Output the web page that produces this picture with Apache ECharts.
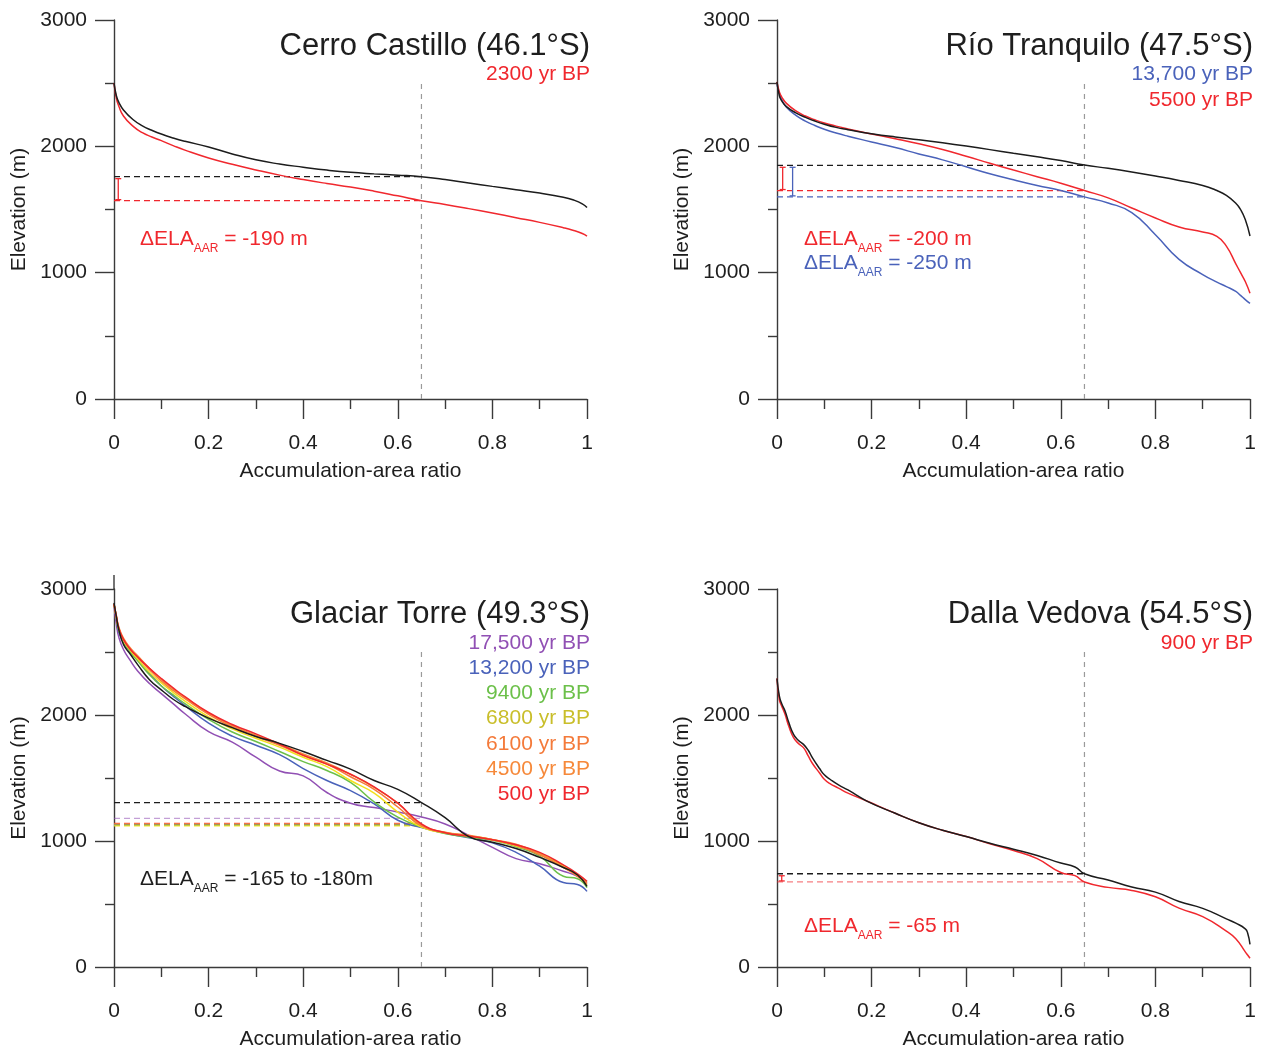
<!DOCTYPE html>
<html>
<head>
<meta charset="utf-8">
<title>Glacier hypsometry and AAR equilibrium-line altitudes</title>
<script src="https://cdn.jsdelivr.net/npm/echarts@6/dist/echarts.min.js"></script>
<style>
  html, body { margin: 0; padding: 0; background: #ffffff; }
  #chart { width: 1266px; height: 1051px; }
</style>
</head>
<body>
<div id="chart"></div>
<script>
// ---------- data ----------
// Accumulation-area ratio at which the ELA is read off each hypsometric curve
const ELA_AAR = 0.65;
const xTickLabels = ['0', '0.2', '0.4', '0.6', '0.8', '1'];
const yTickLabels = ['0', '1000', '2000', '3000'];

// Cerro Castillo (46.1°S)
const aarCC = [0, 0.005, 0.01, 0.02, 0.04, 0.06, 0.08, 0.1, 0.125, 0.15, 0.2, 0.25, 0.3, 0.35, 0.4, 0.45, 0.5, 0.55, 0.6, 0.65, 0.7, 0.75, 0.8, 0.85, 0.9, 0.95, 0.97, 0.99, 1.0];
const elevCCModern = [2500, 2400, 2350, 2288, 2212, 2162, 2127, 2097, 2066, 2040, 1995, 1940, 1893, 1860, 1835, 1812, 1794, 1782, 1772, 1760, 1738, 1710, 1683, 1657, 1630, 1597, 1577, 1545, 1515];
const elevCC2300 = [2500, 2380, 2320, 2240, 2160, 2108, 2074, 2045, 2006, 1970, 1908, 1858, 1813, 1772, 1737, 1706, 1678, 1645, 1608, 1570, 1540, 1507, 1472, 1435, 1398, 1356, 1336, 1310, 1290];
const elaCC = { modern: 1760, bp2300: 1570 };

// Río Tranquilo (47.5°S)
const aarRT = [0, 0.005, 0.01, 0.02, 0.04, 0.06, 0.08, 0.1, 0.125, 0.15, 0.2, 0.25, 0.3, 0.35, 0.4, 0.45, 0.5, 0.55, 0.6, 0.65, 0.7, 0.75, 0.8, 0.85, 0.9, 0.93, 0.95, 0.97, 0.98, 0.99, 1.0];
const elevRTModern = [2510, 2400, 2360, 2314, 2265, 2230, 2200, 2175, 2150, 2132, 2100, 2074, 2052, 2028, 2002, 1974, 1945, 1917, 1887, 1852, 1826, 1797, 1765, 1730, 1690, 1650, 1612, 1550, 1500, 1420, 1290];
const elevRT5500 = [2510, 2430, 2390, 2340, 2280, 2240, 2210, 2185, 2160, 2138, 2098, 2060, 2020, 1975, 1922, 1866, 1812, 1760, 1708, 1650, 1592, 1512, 1433, 1362, 1322, 1288, 1210, 1070, 1000, 930, 837];
const elevRT13700 = [2490, 2420, 2370, 2310, 2245, 2200, 2165, 2135, 2105, 2080, 2035, 1990, 1940, 1893, 1838, 1783, 1735, 1690, 1650, 1600, 1552, 1475, 1300, 1105, 985, 925, 890, 852, 820, 787, 757];
const elaRT = { modern: 1850, bp5500: 1650, bp13700: 1600 };

// Glaciar Torre (49.3°S)
const aarGT = [0, 0.005, 0.01, 0.02, 0.035, 0.05, 0.075, 0.1, 0.125, 0.15, 0.2, 0.25, 0.3, 0.35, 0.4, 0.45, 0.5, 0.55, 0.6, 0.65, 0.7, 0.75, 0.8, 0.85, 0.9, 0.95, 0.98, 1.0];
const elevGTModern = [2890, 2780, 2680, 2560, 2480, 2400, 2280, 2200, 2125, 2068, 1975, 1900, 1830, 1775, 1710, 1640, 1570, 1480, 1410, 1305, 1185, 1035, 990, 940, 870, 790, 730, 640];
const elevGT17500 = [2870, 2720, 2620, 2520, 2429, 2350, 2250, 2170, 2090, 2010, 1868, 1785, 1665, 1555, 1517, 1385, 1300, 1265, 1230, 1190, 1135, 1045, 950, 860, 820, 760, 720, 670];
const elevGT13200 = [2880, 2760, 2660, 2580, 2500, 2440, 2330, 2230, 2150, 2075, 1935, 1832, 1760, 1685, 1575, 1480, 1400, 1295, 1165, 1106, 1062, 1025, 985, 910, 800, 670, 655, 600];
const elevGT9400 = [2880, 2770, 2670, 2580, 2500, 2430, 2320, 2230, 2160, 2090, 1965, 1865, 1790, 1710, 1630, 1560, 1465, 1310, 1190, 1110, 1060, 1030, 1005, 955, 880, 720, 700, 630];
const elevGT6800 = [2880, 2770, 2680, 2590, 2510, 2445, 2340, 2255, 2180, 2110, 1985, 1890, 1815, 1745, 1665, 1590, 1480, 1380, 1230, 1110, 1065, 1040, 1010, 960, 900, 800, 730, 650];
const elevGT6100 = [2880, 2780, 2690, 2600, 2520, 2460, 2360, 2270, 2195, 2130, 2005, 1905, 1830, 1760, 1680, 1610, 1510, 1410, 1270, 1120, 1068, 1040, 1012, 965, 890, 790, 720, 660];
const elevGT4500 = [2880, 2790, 2700, 2610, 2530, 2470, 2370, 2280, 2205, 2140, 2015, 1915, 1840, 1770, 1690, 1620, 1530, 1425, 1300, 1125, 1070, 1045, 1010, 975, 900, 790, 730, 670];
const elevGT500 = [2880, 2780, 2690, 2600, 2520, 2460, 2370, 2290, 2215, 2145, 2020, 1925, 1850, 1770, 1680, 1610, 1530, 1430, 1300, 1135, 1065, 1040, 1010, 970, 910, 810, 740, 680];
const elaGT = { modern: 1305, bp17500: 1180, bp13200: 1125, bp9400: 1125, bp6800: 1120, bp6100: 1130, bp4500: 1135, bp500: 1140 };

// Dalla Vedova (54.5°S)
const aarDV = [0, 0.005, 0.01, 0.017, 0.025, 0.035, 0.045, 0.056, 0.066, 0.075, 0.09, 0.1, 0.112, 0.13, 0.15, 0.19, 0.25, 0.3, 0.35, 0.4, 0.45, 0.5, 0.55, 0.6, 0.63, 0.65, 0.7, 0.75, 0.8, 0.85, 0.9, 0.95, 0.97, 0.99, 0.995, 1.0];
const elevDVModern = [2290, 2150, 2090, 2032, 1940, 1847, 1800, 1767, 1720, 1660, 1575, 1525, 1490, 1445, 1405, 1317, 1220, 1145, 1085, 1035, 982, 935, 885, 825, 794, 740, 690, 635, 594, 520, 465, 382, 348, 303, 270, 180];
const elevDV900 = [2290, 2120, 2070, 2005, 1910, 1820, 1775, 1741, 1675, 1615, 1540, 1490, 1455, 1420, 1380, 1317, 1220, 1145, 1085, 1035, 978, 925, 860, 750, 725, 675, 632, 608, 557, 467, 400, 285, 225, 120, 95, 70];
const elaDV = { modern: 740, bp900: 675 };

// ---------- styling ----------
const FONT = '"Liberation Sans", Arial, Helvetica, sans-serif';
const INK = '#1e1e1e';
const AXIS = '#3a3a3a';
const C = {
  black: '#1c1c1c',
  red: '#f0282e',
  blue: '#4a62ba',
  purple: '#9150b4',
  green: '#6cc04a',
  yellow: '#f2e01e',
  yellowText: '#c9be2a',
  orange6100: '#f47a3a',
  orange4500: '#f6893a',
  gray: '#9a9a9a'
};
const FS = 21;

const grids = [
  { left: 114, top: 20, width: 473, height: 379 },
  { left: 777, top: 20, width: 473, height: 379 },
  { left: 114, top: 589, width: 473, height: 378 },
  { left: 777, top: 589, width: 473, height: 378 }
];

function makeXAxis(i) {
  return {
    type: 'value', gridIndex: i, min: 0, max: 1, interval: 0.2,
    name: 'Accumulation-area ratio', nameLocation: 'middle', nameGap: 62,
    nameTextStyle: { fontFamily: FONT, fontSize: FS, color: INK },
    axisLine: { show: true, onZero: false, lineStyle: { color: AXIS, width: 1.4 } },
    axisTick: { show: true, length: 20, lineStyle: { color: AXIS, width: 1.4 } },
    minorTick: { show: true, splitNumber: 2, length: 10, lineStyle: { color: AXIS, width: 1.4 } },
    splitLine: { show: false }, minorSplitLine: { show: false },
    axisLabel: {
      fontFamily: FONT, fontSize: FS, color: INK, margin: 34,
      formatter: v => xTickLabels[Math.round(v * 5)]
    }
  };
}
function makeYAxis(i) {
  return {
    type: 'value', gridIndex: i, min: 0, max: 3000, interval: 1000,
    name: 'Elevation (m)', nameLocation: 'middle', nameGap: 84,
    nameTextStyle: { fontFamily: FONT, fontSize: FS, color: INK },
    axisLine: { show: true, onZero: false, lineStyle: { color: AXIS, width: 1.4 } },
    axisTick: { show: true, length: 19, lineStyle: { color: AXIS, width: 1.4 } },
    minorTick: { show: true, splitNumber: 2, length: 9, lineStyle: { color: AXIS, width: 1.4 } },
    splitLine: { show: false }, minorSplitLine: { show: false },
    axisLabel: {
      fontFamily: FONT, fontSize: FS, color: INK, margin: 27,
      formatter: v => yTickLabels[Math.round(v / 1000)]
    }
  };
}

function curve(i, xs, ys, color, z) {
  return {
    type: 'line', xAxisIndex: i, yAxisIndex: i,
    data: xs.map((x, k) => [x, ys[k]]),
    showSymbol: false, smooth: 0.5,
    lineStyle: { color: color, width: 1.5 },
    silent: true, animation: false, z: z || 3
  };
}
function elaLine(i, ela, color, opacity) {
  return {
    type: 'line', xAxisIndex: i, yAxisIndex: i,
    data: [[0, ela], [ELA_AAR, ela]],
    showSymbol: false,
    lineStyle: { color: color, width: 1.3, type: [6, 4], opacity: opacity == null ? 1 : opacity },
    silent: true, animation: false, z: 2
  };
}
function aarLine(i) {
  return {
    type: 'line', xAxisIndex: i, yAxisIndex: i,
    data: [[ELA_AAR, 0], [ELA_AAR, 2500]],
    showSymbol: false,
    lineStyle: { color: C.gray, width: 1.2, type: [5, 5] },
    silent: true, animation: false, z: 1
  };
}
// capped bar spanning the ELA depression
function deltaBar(i, x, lo, hi, color) {
  return {
    type: 'custom', xAxisIndex: i, yAxisIndex: i,
    data: [[x, lo, hi]], silent: true, animation: false, z: 4,
    renderItem: (params, api) => {
      const b = api.coord([api.value(0), api.value(1)]);
      const t = api.coord([api.value(0), api.value(2)]);
      const y1 = t[1] + 2, y2 = b[1] - 1, x0 = b[0], cw = 3;
      const st = { stroke: color, lineWidth: 1.3 };
      return {
        type: 'group', children: [
          { type: 'line', shape: { x1: x0, y1: y1, x2: x0, y2: y2 }, style: st },
          { type: 'line', shape: { x1: x0 - cw, y1: y1, x2: x0 + cw, y2: y1 }, style: st },
          { type: 'line', shape: { x1: x0 - cw, y1: y2, x2: x0 + cw, y2: y2 }, style: st }
        ]
      };
    }
  };
}

const series = [
  // Cerro Castillo
  aarLine(0),
  elaLine(0, elaCC.modern, C.black),
  elaLine(0, elaCC.bp2300, C.red),
  deltaBar(0, 0.009, elaCC.bp2300, elaCC.modern, C.red),
  curve(0, aarCC, elevCC2300, C.red),
  curve(0, aarCC, elevCCModern, C.black),
  // Río Tranquilo
  aarLine(1),
  elaLine(1, elaRT.modern, C.black),
  elaLine(1, elaRT.bp5500, C.red),
  elaLine(1, elaRT.bp13700, C.blue),
  deltaBar(1, 0.012, elaRT.bp5500, elaRT.modern, C.red),
  deltaBar(1, 0.033, elaRT.bp13700, elaRT.modern, C.blue),
  curve(1, aarRT, elevRT13700, C.blue),
  curve(1, aarRT, elevRT5500, C.red),
  curve(1, aarRT, elevRTModern, C.black),
  // Glaciar Torre
  aarLine(2),
  elaLine(2, elaGT.modern, C.black),
  elaLine(2, elaGT.bp17500, C.purple, 0.55),
  elaLine(2, elaGT.bp500, C.red, 0.8),
  elaLine(2, elaGT.bp4500, C.orange4500, 0.8),
  elaLine(2, elaGT.bp6100, C.orange6100, 0.8),
  elaLine(2, elaGT.bp13200, C.blue, 0.6),
  elaLine(2, elaGT.bp9400, C.green, 0.7),
  elaLine(2, elaGT.bp6800, C.yellow, 0.9),
  curve(2, aarGT, elevGT17500, C.purple),
  curve(2, aarGT, elevGT13200, C.blue),
  curve(2, aarGT, elevGT9400, C.green),
  curve(2, aarGT, elevGT6800, C.yellow),
  curve(2, aarGT, elevGT6100, C.orange6100),
  curve(2, aarGT, elevGT4500, C.orange4500),
  curve(2, aarGT, elevGT500, C.red),
  curve(2, aarGT, elevGTModern, C.black, 4),
  // Dalla Vedova
  aarLine(3),
  elaLine(3, elaDV.modern, C.black),
  elaLine(3, elaDV.bp900, C.red, 0.6),
  deltaBar(3, 0.01, elaDV.bp900, elaDV.modern, C.red),
  curve(3, aarDV, elevDV900, C.red),
  curve(3, aarDV, elevDVModern, C.black)
];

// ---------- annotations ----------
function txt(x, y, text, color, size, align) {
  return {
    type: 'text', x: x, y: y, silent: true,
    style: { text: text, fill: color, fontFamily: FONT, fontSize: size || FS, align: align || 'right', verticalAlign: 'middle' }
  };
}
function deltaText(x, y, value, color) {
  return {
    type: 'text', x: x, y: y - 12, silent: true,
    style: {
      text: '{a|ΔELA}{s|AAR}{a| = ' + value + '}',
      fill: color, fontFamily: FONT, align: 'left', verticalAlign: 'top',
      rich: {
        a: { fontFamily: FONT, fontSize: FS, fill: color, lineHeight: 24, verticalAlign: 'top' },
        s: { fontFamily: FONT, fontSize: 12, fill: color, lineHeight: 14, verticalAlign: 'top', padding: [14, 0, 0, 0] }
      }
    }
  };
}

const graphic = [
  txt(590, 46, 'Cerro Castillo (46.1°S)', INK, 31),
  txt(590, 74, '2300 yr BP', C.red),
  deltaText(140, 241, '-190 m', C.red),

  txt(1253, 46, 'Río Tranquilo (47.5°S)', INK, 31),
  txt(1253, 74, '13,700 yr BP', C.blue),
  txt(1253, 100, '5500 yr BP', C.red),
  deltaText(804, 241, '-200 m', C.red),
  deltaText(804, 265, '-250 m', C.blue),

  txt(590, 614, 'Glaciar Torre (49.3°S)', INK, 31),
  txt(590, 643, '17,500 yr BP', C.purple),
  txt(590, 668, '13,200 yr BP', C.blue),
  txt(590, 693, '9400 yr BP', C.green),
  txt(590, 718, '6800 yr BP', C.yellowText),
  txt(590, 744, '6100 yr BP', C.orange6100),
  txt(590, 769, '4500 yr BP', C.orange4500),
  txt(590, 794, '500 yr BP', C.red),
  deltaText(140, 881, '-165 to -180m', INK),
  // axis line of this panel runs a little past the 3000 m tick
  { type: 'line', silent: true, shape: { x1: 114, y1: 575, x2: 114, y2: 589 }, style: { stroke: AXIS, lineWidth: 1.4 } },

  txt(1253, 614, 'Dalla Vedova (54.5°S)', INK, 31),
  txt(1253, 643, '900 yr BP', C.red),
  deltaText(804, 928, '-65 m', C.red)
];

const chart = echarts.init(document.getElementById('chart'), null, { renderer: 'canvas' });
chart.setOption({
  backgroundColor: '#ffffff',
  animation: false,
  textStyle: { fontFamily: FONT },
  grid: grids,
  xAxis: [0, 1, 2, 3].map(makeXAxis),
  yAxis: [0, 1, 2, 3].map(makeYAxis),
  series: series,
  graphic: graphic
});
</script>
</body>
</html>
